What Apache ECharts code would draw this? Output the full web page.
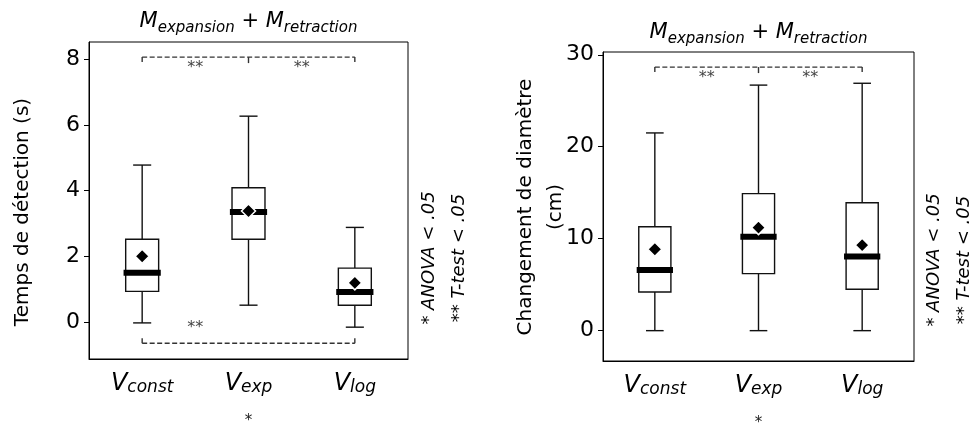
<!DOCTYPE html>
<html><head><meta charset="utf-8">
<script src="https://cdn.jsdelivr.net/npm/echarts@6/dist/echarts.min.js"></script>
<style>html,body{margin:0;padding:0;background:#fff}#c{width:971px;height:425px}</style>
</head><body><div id="c"></div>
<script>
// ---------- data ----------
const categories = ['const', 'exp', 'log'];
// [low whisker, Q1, median, Q3, high whisker]
const timeBox = [[-0.03, 0.93, 1.50, 2.52, 4.78], [0.51, 2.52, 3.35, 4.09, 6.27], [-0.16, 0.51, 0.91, 1.64, 2.88]];
const timeMean = [2.00, 3.38, 1.19];
const diamBox = [[0, 4.2, 6.6, 11.3, 21.5], [0, 6.2, 10.2, 14.9, 26.7], [0, 4.5, 8.05, 13.9, 26.9]];
const diamMean = [8.85, 11.2, 9.3];
const timeTicks = [0, 2, 4, 6, 8];
const diamTicks = [0, 10, 20, 30];
const timeRange = [-1.13, 8.53];
const diamRange = [-3.3, 30.3];
// significance brackets: [fromIdx, toIdx, level, midIdx(-1 none), direction(1 top,-1 bottom)]
const timeSig = [[0, 2, 8.07, 1, 1], [0, 2, -0.65, -1, -1]];
const diamSig = [[0, 2, 28.66, 1, 1]];
const sigLabel = '**';

const FONT = 'DejaVu Sans';
const C = '#111';

function renderBox(params, api) {
  const i = api.value(0);
  const band = api.size([1, 0])[0];
  const bw = band * 0.31, mw = band * 0.35, cw = band * 0.17;
  const x = api.coord([i, 0])[0];
  const yl = api.coord([i, api.value(1)])[1];
  const y1 = api.coord([i, api.value(2)])[1];
  const ym = api.coord([i, api.value(3)])[1];
  const y3 = api.coord([i, api.value(4)])[1];
  const yh = api.coord([i, api.value(5)])[1];
  const ls = { stroke: C, lineWidth: 1.4 };
  return { type: 'group', children: [
    { type: 'line', shape: { x1: x, y1: yl, x2: x, y2: y1 }, style: ls },
    { type: 'line', shape: { x1: x, y1: y3, x2: x, y2: yh }, style: ls },
    { type: 'line', shape: { x1: x - cw / 2, y1: yl, x2: x + cw / 2, y2: yl }, style: ls },
    { type: 'line', shape: { x1: x - cw / 2, y1: yh, x2: x + cw / 2, y2: yh }, style: ls },
    { type: 'rect', shape: { x: x - bw / 2, y: y3, width: bw, height: y1 - y3 }, style: { fill: 'none', stroke: C, lineWidth: 1.4 } },
    { type: 'line', shape: { x1: x - mw / 2, y1: ym, x2: x + mw / 2, y2: ym }, style: { stroke: '#000', lineWidth: 6 } }
  ]};
}

function renderSig(params, api) {
  const a = api.value(0), b = api.value(1), lv = api.value(2), mid = api.value(3), dir = api.value(4);
  const p1 = api.coord([a, lv]), p2 = api.coord([b, lv]);
  const y = p1[1];
  const st = { stroke: '#333', lineWidth: 1.4, lineDash: [5, 2.5] };
  const tk = { stroke: '#333', lineWidth: 1.4 };
  const ch = [
    { type: 'line', shape: { x1: p1[0], y1: y, x2: p2[0], y2: y }, style: st },
    { type: 'line', shape: { x1: p1[0], y1: y, x2: p1[0], y2: y + 5 * dir }, style: tk },
    { type: 'line', shape: { x1: p2[0], y1: y, x2: p2[0], y2: y + 5 * dir }, style: tk }
  ];
  const txt = (x) => ({ type: 'text', x: x, y: y + (dir > 0 ? 11 : -15), style: { text: sigLabel, fill: '#444', font: '16px ' + FONT, align: 'center', verticalAlign: 'middle' } });
  if (mid >= 0) {
    const pm = api.coord([mid, lv]);
    ch.push({ type: 'line', shape: { x1: pm[0], y1: y, x2: pm[0], y2: y + 6 * dir }, style: tk });
    ch.push(txt((p1[0] + pm[0]) / 2));
    ch.push(txt((pm[0] + p2[0]) / 2));
  } else {
    const pn = api.coord([a + 1, lv]);
    ch.push(txt((p1[0] + pn[0]) / 2));
  }
  return { type: 'group', children: ch };
}

const titleRich = {
  m: { fontFamily: FONT, fontStyle: 'italic', fontSize: 21, color: '#000' },
  s: { fontFamily: FONT, fontStyle: 'italic', fontSize: 15, color: '#000', padding: [13, 0, 0, 0] },
  p: { fontFamily: FONT, fontSize: 21, color: '#000' }
};
const titleText = '{m|M}{s|expansion}{p| + }{m|M}{s|retraction}';

function xAxisCfg(g) {
  return {
    gridIndex: g, type: 'category', data: categories,
    axisLine: { show: true, onZero: false, lineStyle: { color: '#000', width: 1 } },
    axisTick: { alignWithLabel: true, length: 5, lineStyle: { color: '#000' } },
    axisLabel: {
      margin: 13, formatter: v => '{v|V}{s|' + v + '}',
      rich: {
        v: { fontFamily: FONT, fontStyle: 'italic', fontSize: 24, color: '#000' },
        s: { fontFamily: FONT, fontStyle: 'italic', fontSize: 17, color: '#000', padding: [7, 0, 0, 0] }
      }
    },
    splitLine: { show: false },
    name: '*', nameLocation: 'middle', nameGap: 55,
    nameTextStyle: { fontFamily: FONT, fontSize: 15, color: '#222' }
  };
}
function yAxisCfg(g, range, ticks) {
  return {
    gridIndex: g, type: 'value', min: range[0], max: range[1],
    axisLine: { show: true, onZero: false, lineStyle: { color: '#000', width: 1 } },
    axisTick: { show: true, length: 5, customValues: ticks, lineStyle: { color: '#000' } },
    axisLabel: { customValues: ticks, fontFamily: FONT, fontSize: 22, color: '#000', margin: 9 },
    splitLine: { show: false }
  };
}

function note(x, y, t) {
  return { type: 'text', x: x, y: y, rotation: Math.PI / 2,
    style: { text: t, font: 'italic 18px ' + FONT, fill: '#000', align: 'center', verticalAlign: 'middle' } };
}

const chart = echarts.init(document.getElementById('c'), null, { renderer: 'canvas' });
chart.setOption({
  animation: false,
  backgroundColor: '#fff',
  grid: [
    { left: 89, top: 42, width: 319, height: 317, show: true, borderColor: '#000', borderWidth: 1, backgroundColor: 'transparent', containLabel: false, outerBoundsMode: 'none' },
    { left: 603, top: 52, width: 311, height: 309, show: true, borderColor: '#000', borderWidth: 1, backgroundColor: 'transparent', containLabel: false, outerBoundsMode: 'none' }
  ],
  xAxis: [xAxisCfg(0), xAxisCfg(1)],
  yAxis: [yAxisCfg(0, timeRange, timeTicks), yAxisCfg(1, diamRange, diamTicks)],
  graphic: [
    { type: 'text', x: 248.5, y: 22, style: { text: titleText, rich: titleRich, align: 'center', verticalAlign: 'middle' } },
    { type: 'text', x: 758.5, y: 33, style: { text: titleText, rich: titleRich, align: 'center', verticalAlign: 'middle' } },
    { type: 'text', x: 23, y: 212, rotation: Math.PI / 2,
      style: { text: 'Temps de détection (s)', font: '20px ' + FONT, fill: '#000', align: 'center', verticalAlign: 'middle' } },
    { type: 'text', x: 541, y: 207, rotation: Math.PI / 2,
      style: { text: 'Changement de diamètre\n(cm)', font: '20px ' + FONT, lineHeight: 30, fill: '#000', align: 'center', verticalAlign: 'middle' } },
    note(429, 258, '* ANOVA < .05'),
    note(459, 258, '** T-test < .05'),
    note(934, 260, '* ANOVA < .05'),
    note(964, 260, '** T-test < .05')
  ],
  series: [
    { type: 'custom', xAxisIndex: 0, yAxisIndex: 0, renderItem: renderBox, encode: { x: 0, y: [1, 2, 3, 4, 5] },
      data: timeBox.map((b, i) => [i].concat(b)), z: 2 },
    { type: 'custom', xAxisIndex: 1, yAxisIndex: 1, renderItem: renderBox, encode: { x: 0, y: [1, 2, 3, 4, 5] },
      data: diamBox.map((b, i) => [i].concat(b)), z: 2 },
    { type: 'scatter', xAxisIndex: 0, yAxisIndex: 0, symbol: 'diamond', symbolSize: 14,
      itemStyle: { color: '#000', opacity: 1, borderColor: '#fff', borderWidth: 1.5 }, data: timeMean.map((m, i) => [i, m]), z: 5 },
    { type: 'scatter', xAxisIndex: 1, yAxisIndex: 1, symbol: 'diamond', symbolSize: 14,
      itemStyle: { color: '#000', opacity: 1, borderColor: '#fff', borderWidth: 1.5 }, data: diamMean.map((m, i) => [i, m]), z: 5 },
    { type: 'custom', xAxisIndex: 0, yAxisIndex: 0, renderItem: renderSig, encode: { x: 0, y: 2 }, data: timeSig, z: 3 },
    { type: 'custom', xAxisIndex: 1, yAxisIndex: 1, renderItem: renderSig, encode: { x: 0, y: 2 }, data: diamSig, z: 3 }
  ]
});
</script>
</body></html>
